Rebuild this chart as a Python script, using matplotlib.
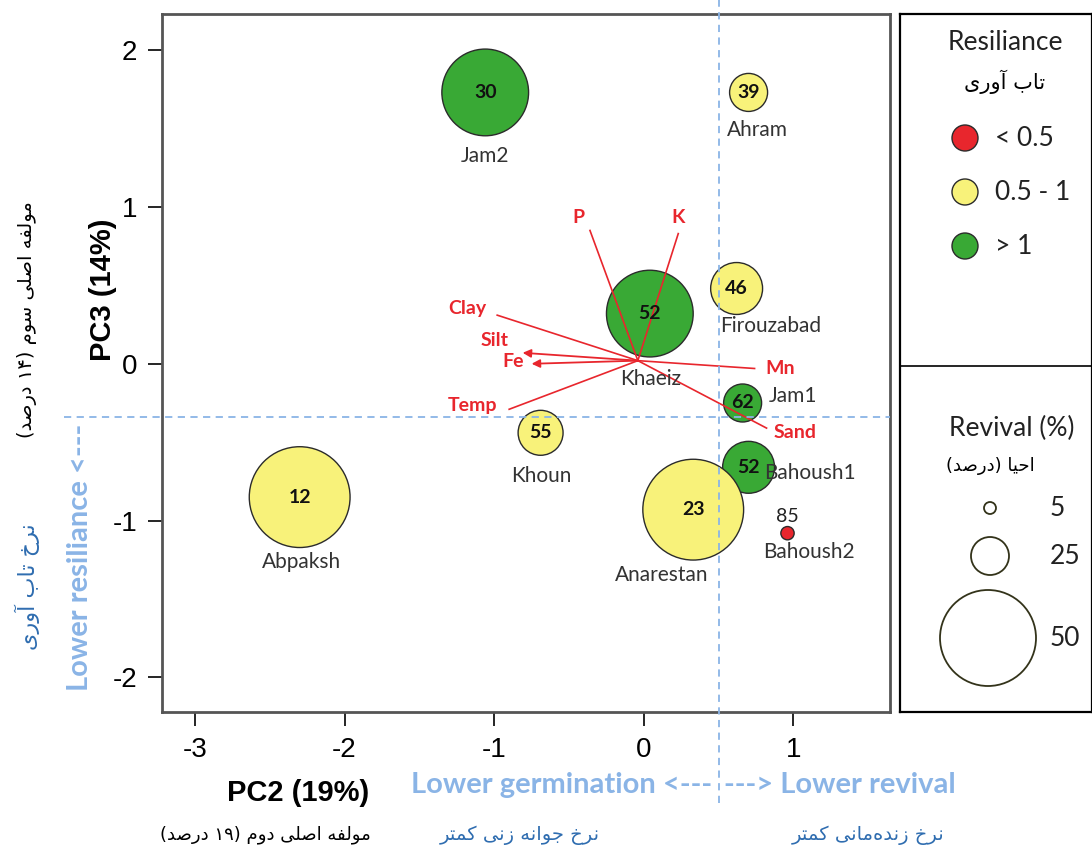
import re
import numpy as np
import matplotlib
matplotlib.use('Agg')
from matplotlib import pyplot as plt

plt.rcParams['axes.unicode_minus'] = False

# PCA site scores (PC2, PC3), number shown in bubble, revival % (bubble size)
sites = ['Jam2', 'Ahram', 'Khaeiz', 'Firouzabad', 'Jam1', 'Khoun',
         'Abpaksh', 'Bahoush1', 'Anarestan', 'Bahoush2']
pc2 = [-1.06, 0.70, 0.04, 0.62, 0.66, -0.69, -2.30, 0.70, 0.33, 0.96]
pc3 = [1.73, 1.73, 0.32, 0.48, -0.25, -0.44, -0.85, -0.66, -0.93, -1.08]
bubble_num = [30, 39, 52, 46, 62, 55, 12, 52, 23, 85]
revival = [46, 25, 46, 31, 25, 28, 52, 31, 52, 6]
resil_class = ['>1', '0.5-1', '>1', '0.5-1', '>1', '0.5-1',
               '0.5-1', '>1', '0.5-1', '<0.5']

# environmental vectors
env_vars = ['P', 'K', 'Clay', 'Silt', 'Fe', 'Temp', 'Mn', 'Sand']
env_x = [-0.36, 0.23, -0.98, -0.81, -0.75, -0.90, 0.74, 0.82]
env_y = [0.85, 0.83, 0.31, 0.07, 0.00, -0.29, -0.03, -0.41]
env_origin = (-0.04, 0.02)

resil_labels = ['< 0.5', '0.5 - 1', '> 1']
resil_keys = ['<0.5', '0.5-1', '>1']
revival_legend = [5, 25, 50]

colors = {'<0.5': '#e8262d', '0.5-1': '#f8f27a', '>1': '#39a935'}

# label offsets in pixels
site_offsets = [(0, -64), (9, -38), (1, -65), (34, -38), (50, 7), (1, -43),
                (2, -65), (61, -6), (-32, -65), (21, -19)]
env_offsets = [(-12, 13), (0, 16), (-30, 7), (-28, 12), (-18, 2), (-37, 4),
               (26, 0), (29, -4)]


def bubble_area(v):
    r = np.interp(v, [0, 5, 25, 50, 60], [0, 6, 19, 48, 60])
    return (2 * r * 0.72) ** 2


# minimal Persian shaping (presentation forms) + visual ordering
FORMS = {
    'ا': ('\uFE8D', '\uFE8E', None, None),
    'آ': ('\uFE81', '\uFE82', None, None),
    'ب': ('\uFE8F', '\uFE90', '\uFE91', '\uFE92'),
    'ت': ('\uFE95', '\uFE96', '\uFE97', '\uFE98'),
    'ج': ('\uFE9D', '\uFE9E', '\uFE9F', '\uFEA0'),
    'ح': ('\uFEA1', '\uFEA2', '\uFEA3', '\uFEA4'),
    'خ': ('\uFEA5', '\uFEA6', '\uFEA7', '\uFEA8'),
    'د': ('\uFEA9', '\uFEAA', None, None),
    'ر': ('\uFEAD', '\uFEAE', None, None),
    'ز': ('\uFEAF', '\uFEB0', None, None),
    'س': ('\uFEB1', '\uFEB2', '\uFEB3', '\uFEB4'),
    'ص': ('\uFEB9', '\uFEBA', '\uFEBB', '\uFEBC'),
    'ف': ('\uFED1', '\uFED2', '\uFED3', '\uFED4'),
    'ل': ('\uFEDD', '\uFEDE', '\uFEDF', '\uFEE0'),
    'م': ('\uFEE1', '\uFEE2', '\uFEE3', '\uFEE4'),
    'ن': ('\uFEE5', '\uFEE6', '\uFEE7', '\uFEE8'),
    'ه': ('\uFEE9', '\uFEEA', '\uFEEB', '\uFEEC'),
    'و': ('\uFEED', '\uFEEE', None, None),
    'ی': ('\uFBFC', '\uFBFD', '\uFBFE', '\uFBFF'),
    'ک': ('\uFB8E', '\uFB8F', '\uFB90', '\uFB91'),
}


def fa(text):
    out = []
    for i, c in enumerate(text):
        if c not in FORMS:
            out.append(c)
            continue
        prev = text[i - 1] if i > 0 else ''
        nxt = text[i + 1] if i + 1 < len(text) else ''
        jp = prev in FORMS and FORMS[prev][2] is not None
        jn = FORMS[c][2] is not None and nxt in FORMS
        iso, fin, ini, med = FORMS[c]
        out.append(med if jp and jn else fin if jp else ini if jn else iso)
    s = ''.join(out).replace('\u200c', '')
    tokens = re.findall(r'[0-9\u06F0-\u06F9]+|.', s)[::-1]
    mirror = {'(': ')', ')': '('}
    return ''.join(mirror.get(t, t) for t in tokens)


W, H = 1092, 852
fig = plt.figure(figsize=(W / 100, H / 100), dpi=100)
ax = fig.add_axes([162 / W, 1 - 712 / H, 728 / W, 698 / H])

LAT = ['Lato', 'DejaVu Sans']
NUM = ['Liberation Sans', 'DejaVu Sans']
PER = ['DejaVu Sans']
light_blue = '#8ab4e6'
dark_blue = '#2f6db0'
red = '#e8262d'

# bubbles
ax.scatter(pc2, pc3, s=[bubble_area(v) for v in revival],
           c=[colors[k] for k in resil_class], edgecolors='#2b2b2b',
           linewidths=1.0, zorder=2)
for i, name in enumerate(sites):
    if name == 'Bahoush2':
        ax.annotate(str(bubble_num[i]), (pc2[i], pc3[i]), xytext=(0, 17),
                    textcoords='offset pixels', ha='center', va='center',
                    fontsize=14, family=LAT, color='#222222', zorder=4)
    else:
        ax.text(pc2[i], pc3[i], str(bubble_num[i]), ha='center', va='center',
                fontsize=14, fontweight='bold', family=LAT, color='#111111',
                zorder=4)
    ax.annotate(name, (pc2[i], pc3[i]), xytext=site_offsets[i],
                textcoords='offset pixels', ha='center', va='center',
                fontsize=15, family=LAT, color='#333333', zorder=4)

# environmental vectors
for i, var in enumerate(env_vars):
    if var in ('Silt', 'Fe'):
        ax.annotate('', xy=(env_x[i], env_y[i]), xytext=env_origin,
                    arrowprops=dict(arrowstyle='-|>', color=red, lw=1.3,
                                    mutation_scale=12, shrinkA=0, shrinkB=0),
                    zorder=3)
    else:
        ax.plot([env_origin[0], env_x[i]], [env_origin[1], env_y[i]],
                color=red, lw=1.2, zorder=3)
    ax.annotate(var, (env_x[i], env_y[i]), xytext=env_offsets[i],
                textcoords='offset pixels', ha='center', va='center',
                fontsize=14, fontweight='bold', family=LAT, color=red,
                zorder=4)

# dashed guide lines
ax.axvline(0.5, ymin=-0.13, ymax=1.03, color=light_blue, lw=1.3,
           ls=(0, (4, 3)), clip_on=False, zorder=5)
ax.axhline(-0.34, xmin=-0.135, xmax=1.0, color=light_blue, lw=1.3,
           ls=(0, (4, 3)), clip_on=False, zorder=5)

ax.set_xlim(-3.22, 1.645)
ax.set_ylim(-2.22, 2.23)
ax.set_xticks([-3, -2, -1, 0, 1])
ax.set_yticks([-2, -1, 0, 1, 2])
ax.tick_params(direction='out', length=10, width=1.2, labelsize=20,
               pad=8, colors='black')
for lab in ax.get_xticklabels() + ax.get_yticklabels():
    lab.set_family(NUM)
for sp in ax.spines.values():
    sp.set_color('#555555')
    sp.set_linewidth(2)


def ftext(x, y, s, **kw):
    fig.text(x / W, 1 - y / H, s, **kw)


# axis titles
ftext(298, 793, 'PC2 (19%)', ha='center', va='center', fontsize=21,
      fontweight='bold', family=NUM)
ftext(103, 290, 'PC3 (14%)', ha='center', va='center', fontsize=21,
      fontweight='bold', family=NUM, rotation=90)
ftext(712, 785, 'Lower germination <---', ha='right', va='center',
      fontsize=21, fontweight='bold', family=LAT, color=light_blue)
ftext(724, 785, '---> Lower revival', ha='left', va='center',
      fontsize=21, fontweight='bold', family=LAT, color=light_blue)
ftext(80, 557, 'Lower resiliance <---', ha='center', va='center',
      fontsize=21, fontweight='bold', family=LAT, color=light_blue,
      rotation=90)

ftext(265, 835, fa('مولفه اصلی دوم (۱۹ درصد)'), ha='center', va='center',
      fontsize=13, family=PER, color='black')
ftext(520, 835, fa('نرخ جوانه زنی کمتر'), ha='center', va='center',
      fontsize=14, family=PER, color=dark_blue)
ftext(868, 835, fa('نرخ زنده‌مانی کمتر'), ha='center', va='center',
      fontsize=14, family=PER, color=dark_blue)
ftext(27, 320, fa('مولفه اصلی سوم (۱۴ درصد)'), ha='center', va='center',
      fontsize=14, family=PER, color='black', rotation=90)
ftext(27, 587, fa('نرخ تاب آوری'), ha='center', va='center',
      fontsize=16, family=PER, color=dark_blue, rotation=90)

# legend panel in pixel coordinates
lg = fig.add_axes([900 / W, 1 - 712 / H, 192 / W, 698 / H])
lg.set_xlim(900, 1092)
lg.set_ylim(712, 14)
lg.set_xticks([])
lg.set_yticks([])
for sp in lg.spines.values():
    sp.set_linewidth(1.6)
    sp.set_color('black')
lg.axhline(366, color='black', lw=1.2)

lg.text(1005, 43, 'Resiliance', ha='center', va='center', fontsize=19,
        family=LAT, color='#222222')
lg.text(1005, 82, fa('تاب آوری'), ha='center', va='center', fontsize=15,
        family=PER)
leg_y = [138, 192, 246]
lg.scatter([965] * 3, leg_y, s=(2 * 13 * 0.72) ** 2,
           c=[colors[k] for k in resil_keys], edgecolors='#2b2b2b',
           linewidths=1.0)
for yy, lab in zip(leg_y, resil_labels):
    lg.text(995, yy, lab, ha='left', va='center', fontsize=19, family=LAT,
            color='#222222')

lg.text(1012, 428, 'Revival (%)', ha='center', va='center', fontsize=19,
        family=LAT, color='#222222')
lg.text(990, 466, fa('احیا (درصد)'), ha='center', va='center', fontsize=13,
        family=PER)
rev_y = [508, 556, 638]
lg.scatter([990, 990, 988], rev_y, s=[bubble_area(v) for v in revival_legend],
           c='white', edgecolors='#33331a', linewidths=1.3)
for yy, v in zip(rev_y, revival_legend):
    lg.text(1050, yy, str(v), ha='left', va='center', fontsize=19,
            family=LAT, color='#222222')

fig.savefig('out.png', dpi=100)
